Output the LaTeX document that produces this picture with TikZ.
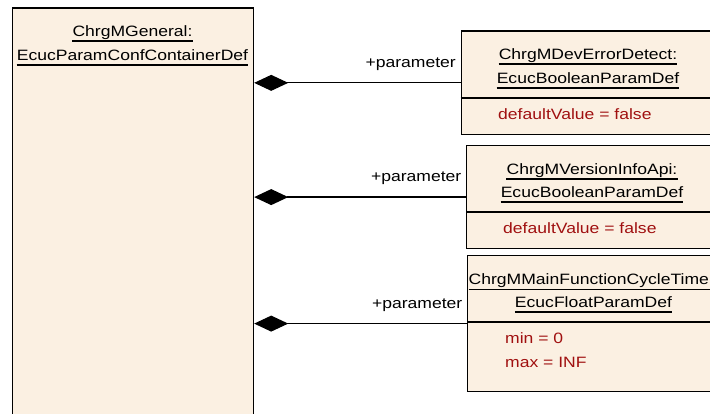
\documentclass[tikz,border=0pt]{standalone}
\usepackage{fontspec}
\setmainfont[FakeStretch=1.17]{Liberation Sans}
\usetikzlibrary{arrows.meta}
\definecolor{umlfill}{RGB}{251,240,226}
\definecolor{attrred}{RGB}{160,16,16}
\newcommand\underdraw[1]{\draw[uline] ([yshift=-4.5pt]#1.base west) -- ([yshift=-4.5pt]#1.base east);}
\begin{document}
\begin{tikzpicture}[x=1pt,y=-1pt,font=\fontsize{15}{18}\selectfont,
  umlbox/.style={draw=black,line width=1.2pt,fill=umlfill,rectangle,inner sep=0pt,anchor=north west},
  txt/.style={inner sep=0pt,anchor=base},
  attr/.style={inner sep=0pt,anchor=base west,text=attrred},
  lbl/.style={inner sep=0pt,anchor=base east},
  comp/.style={line width=1.2pt,-{Diamond[length=34pt,width=16pt]}},
  rule/.style={line width=1.2pt},
  uline/.style={line width=1.1pt}]
\clip (0,0) rectangle (710,414);

% container and its three parameters
\node[umlbox,minimum width=241pt,minimum height=420pt] (g) at (12,7.5) {};
\node[umlbox,minimum width=260pt,minimum height=103.5pt] (b1) at (460.5,30.5) {};
\node[umlbox,minimum width=260pt,minimum height=103pt] (b2) at (466,145) {};
\node[umlbox,minimum width=260pt,minimum height=136pt] (b3) at (467,255) {};

% attribute compartments
\coordinate (c1) at (0,98);
\coordinate (c2) at (0,212);
\coordinate (c3) at (0,322);
\draw[rule] (b1.west |- c1) -- (b1.east |- c1);
\draw[rule] (b2.west |- c2) -- (b2.east |- c2);
\draw[rule] (b3.west |- c3) -- (b3.east |- c3);

% titles
\node[txt] (g1) at (132.5,36.5) {ChrgMGeneral:\ };
\node[txt] (g2) at (132.5,60.5) {EcucParamConfContainerDef};
\underdraw{g1}\underdraw{g2}
\node[txt] (t11) at (588,59.5) {ChrgMDevErrorDetect:\ };
\node[txt] (t12) at (588,83.5) {EcucBooleanParamDef};
\underdraw{t11}\underdraw{t12}
\node[txt] (t21) at (592,174.5) {ChrgMVersionInfoApi:\ };
\node[txt] (t22) at (592,197.5) {EcucBooleanParamDef};
\underdraw{t21}\underdraw{t22}
\node[txt,anchor=base west] (t31) at (468.5,285) {ChrgMMainFunctionCycleTime};
\draw[uline] ([yshift=-4.5pt]t31.base west) -- ([yshift=-4.5pt,xshift=20pt]t31.base east);
\node[txt] (t32) at (593.5,307.5) {EcucFloatParamDef};
\underdraw{t32}

% attributes
\node[attr] (a1) at (498,120) {defaultValue = false};
\node[attr] (a2) at (503,234) {defaultValue = false};
\node[attr] (a3) at (505,344) {min = 0};
\node[attr] (a4) at (505,367) {max = INF};

% compositions
\draw[comp] (b1.west) -- (b1.west -| g.east);
\draw[comp] (b2.west) -- (b2.west -| g.east);
\draw[comp] (b3.west) -- (b3.west -| g.east);
\node[lbl] (l1) at ([xshift=-4.5pt,yshift=15.5pt]b1.west) {+parameter};
\node[lbl] (l2) at ([xshift=-4.5pt,yshift=15.5pt]b2.west) {+parameter};
\node[lbl] (l3) at ([xshift=-4.5pt,yshift=15.5pt]b3.west) {+parameter};
\end{tikzpicture}
\end{document}
